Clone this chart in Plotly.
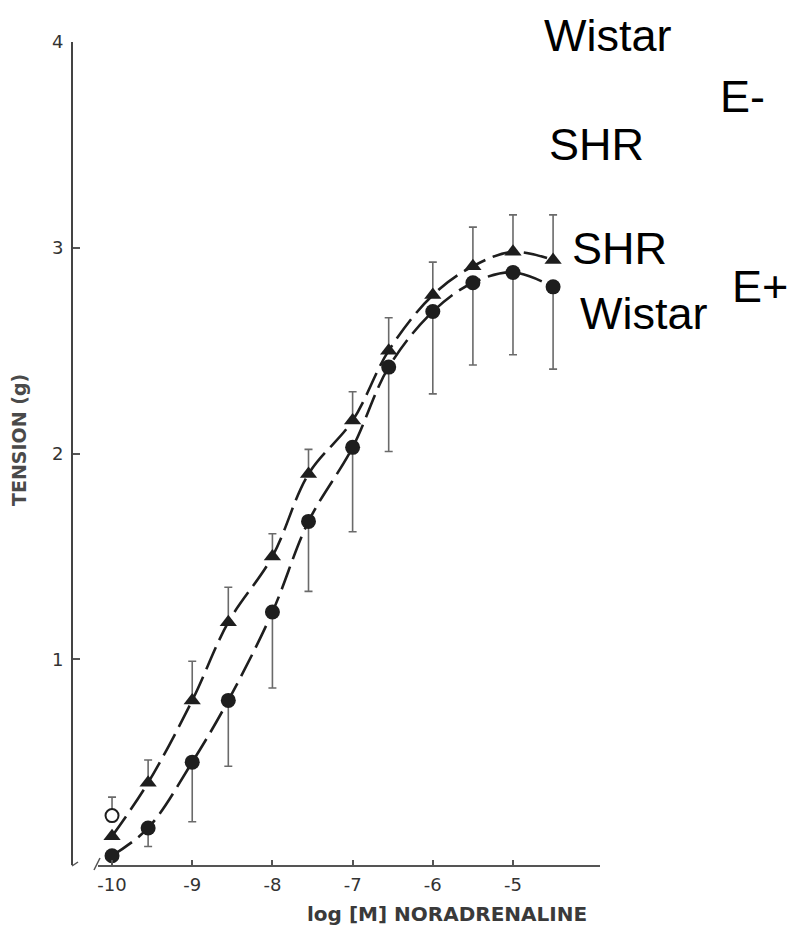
import plotly.graph_objects as go

# ---- data ----
log_dose = [-10, -9.55, -9, -8.55, -8, -7.55, -7, -6.55, -6, -5.5, -5, -4.5]

shr_tension = [0.14, 0.40, 0.80, 1.18, 1.50, 1.90, 2.16, 2.50, 2.77, 2.91, 2.98, 2.94]
shr_sem_up = [0.0, 0.11, 0.19, 0.17, 0.11, 0.12, 0.14, 0.16, 0.16, 0.19, 0.18, 0.22]

wistar_tension = [0.045, 0.18, 0.50, 0.80, 1.23, 1.67, 2.03, 2.42, 2.69, 2.83, 2.88, 2.81]
wistar_sem_down = [0.0, 0.09, 0.29, 0.32, 0.37, 0.34, 0.41, 0.41, 0.40, 0.40, 0.40, 0.40]

open_dose = [-10]
open_tension = [0.24]
open_sem_up = [0.09]

x_ticks = [-10, -9, -8, -7, -6, -5]
x_tick_text = ["-10", "-9", "-8", "-7", "-6", "-5"]
y_ticks = [1, 2, 3, 4]
y_tick_text = ["1", "2", "3", "4"]

# ---- figure geometry (page has an 8px body margin) ----
OFF = 8
W, H = 790, 930
ML, MR, MT, MB = 64, 198, 34, 73
PW, PH = W - ML - MR, H - MT - MB


def px(x):
    return (x - OFF - ML) / PW


def py(y):
    return (H - MB - (y - OFF)) / PH


INK = "#1e1e1e"
ERR = "#6a6a6a"
DASH = "24px,8px"
TXT = "#333333"

fig = go.Figure()

fig.add_trace(go.Scatter(
    x=log_dose, y=shr_tension, mode="lines+markers",
    line=dict(color=INK, width=2.6, dash=DASH, shape="spline", smoothing=1.0),
    marker=dict(symbol="triangle-up", size=15, color=INK),
    error_y=dict(type="data", symmetric=False, array=shr_sem_up,
                 arrayminus=[0] * len(shr_sem_up), color=ERR, thickness=1.6, width=4),
    showlegend=False,
))

fig.add_trace(go.Scatter(
    x=log_dose, y=wistar_tension, mode="lines+markers",
    line=dict(color=INK, width=2.6, dash=DASH, shape="spline", smoothing=1.0),
    marker=dict(symbol="circle", size=15, color=INK),
    error_y=dict(type="data", symmetric=False, array=[0] * len(wistar_sem_down),
                 arrayminus=wistar_sem_down, color=ERR, thickness=1.6, width=4),
    showlegend=False,
))

fig.add_trace(go.Scatter(
    x=open_dose, y=open_tension, mode="markers",
    marker=dict(symbol="circle", size=13, color="white", line=dict(width=2, color=INK)),
    error_y=dict(type="data", symmetric=False, array=open_sem_up, arrayminus=[0],
                 color=ERR, thickness=1.6, width=4),
    showlegend=False,
))

fig.update_layout(
    width=W, height=H,
    margin=dict(l=ML, r=MR, t=MT, b=MB),
    paper_bgcolor="white", plot_bgcolor="white",
    font=dict(family="DejaVu Sans", color=TXT),
    xaxis=dict(
        domain=[px(98), 1], range=[-10.175, -3.915],
        tickvals=x_ticks, ticktext=x_tick_text,
        ticks="inside", ticklen=5, tickwidth=1.5, tickcolor="#555",
        showline=True, linecolor="#555", linewidth=2,
        showgrid=False, zeroline=False,
        tickfont=dict(size=18, color=TXT), ticklabelstandoff=2,
    ),
    yaxis=dict(
        anchor="free", position=0, range=[0, 4],
        tickvals=y_ticks, ticktext=y_tick_text,
        ticks="inside", ticklen=7, tickwidth=1.5, tickcolor="#555",
        showline=True, linecolor="#444", linewidth=2,
        showgrid=False, zeroline=False,
        tickfont=dict(size=18, color=TXT), ticklabelstandoff=4,
    ),
)

# axis titles
fig.add_annotation(x=px(447), y=py(914), xref="paper", yref="paper",
                   text="<b>log [M] NORADRENALINE</b>", showarrow=False,
                   font=dict(size=20, color="#3a3a3a"), xanchor="center", yanchor="middle")
fig.add_annotation(x=px(19), y=py(440), xref="paper", yref="paper",
                   text="<b>TENSION (g)</b>", textangle=-90, showarrow=False,
                   font=dict(size=19, color="#4a4a4a"), xanchor="center", yanchor="middle")

# group labels
labels = [
    ("Wistar", 542, 35),
    ("E-", 718, 96),
    ("SHR", 547, 145),
    ("SHR", 570, 248),
    ("E+", 730, 286),
    ("Wistar", 578, 313),
]
for txt, lx, ly in labels:
    fig.add_annotation(x=px(lx), y=py(ly), xref="paper", yref="paper", text=txt,
                       showarrow=False, xanchor="left", yanchor="middle",
                       font=dict(family="Liberation Sans, Arial", size=45, color="black"))

# axis break marks near origin
fig.add_shape(type="line", xref="paper", yref="paper",
              x0=px(94), y0=py(870), x1=px(100), y1=py(858),
              line=dict(color="#555", width=1.5))
fig.add_shape(type="line", xref="paper", yref="paper",
              x0=px(72), y0=py(866), x1=px(78), y1=py(862),
              line=dict(color="#555", width=1.5))

fig.write_html("out.html")
